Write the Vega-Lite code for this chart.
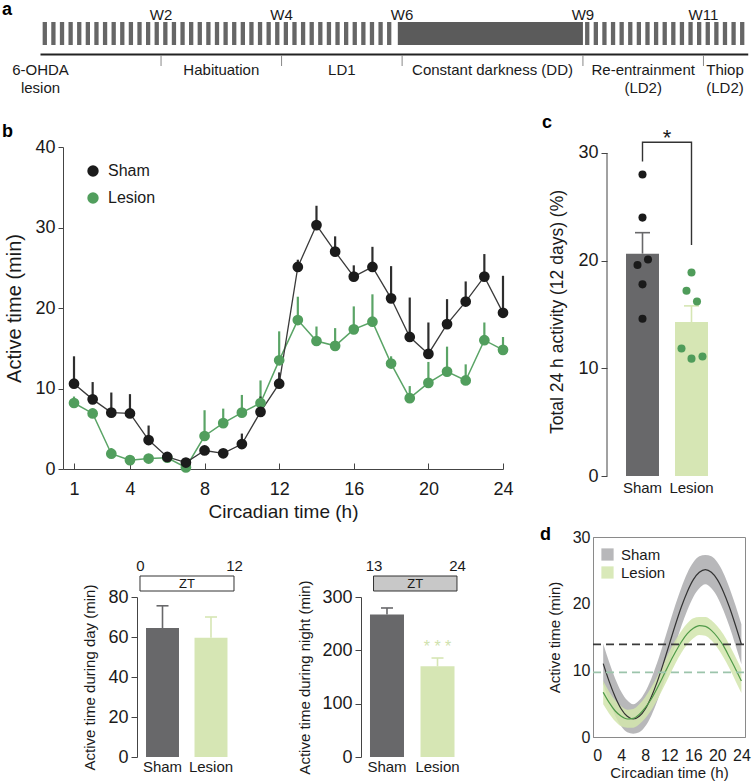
{
  "$schema": "https://vega.github.io/schema/vega-lite/v6.json",
  "padding": 0,
  "background": "white",
  "config": {
    "font": "Liberation Sans",
    "view": {"stroke": null},
    "axis": {"grid": false, "domainColor": "#444", "tickColor": "#444", "labelColor": "#1a1a1a", "titleColor": "#1a1a1a", "titleFontWeight": "normal", "labelFont": "Liberation Sans", "titleFont": "Liberation Sans"},
    "legend": {"labelColor": "#1a1a1a", "labelFont": "Liberation Sans"},
    "text": {"font": "Liberation Sans", "color": "#1a1a1a"}
  },
  "datasets": {
    "stripes": [{"day":0},{"day":1},{"day":2},{"day":3},{"day":4},{"day":5},{"day":6},{"day":7},{"day":8},{"day":9},{"day":10},{"day":11},{"day":12},{"day":13},{"day":14},{"day":15},{"day":16},{"day":17},{"day":18},{"day":19},{"day":20},{"day":21},{"day":22},{"day":23},{"day":24},{"day":25},{"day":26},{"day":27},{"day":28},{"day":29},{"day":30},{"day":31},{"day":32},{"day":33},{"day":34},{"day":35},{"day":36},{"day":37},{"day":38},{"day":39},{"day":40},{"day":63},{"day":64},{"day":65},{"day":66},{"day":67},{"day":68},{"day":69},{"day":70},{"day":71},{"day":72},{"day":73},{"day":74},{"day":75},{"day":76},{"day":77},{"day":78},{"day":79},{"day":80},{"day":81}],
    "weeks": [{"day":14,"w":"W2"},{"day":28,"w":"W4"},{"day":42,"w":"W6"},{"day":63,"w":"W9"},{"day":77,"w":"W11"}],
    "phases": [{"day":0,"label":"6-OHDA\nlesion"},{"day":21,"label":"Habituation"},{"day":35,"label":"LD1"},{"day":52.5,"label":"Constant darkness (DD)"},{"day":70,"label":"Re-entrainment\n(LD2)"},{"day":79.5,"label":"Thiop\n(LD2)"}],
    "b_series": [
      {"group":"Lesion","t":1,"mean":8.2,"upper":9.0},{"group":"Lesion","t":2,"mean":6.9,"upper":7.5},{"group":"Lesion","t":3,"mean":1.9,"upper":2.6},{"group":"Lesion","t":4,"mean":1.1,"upper":1.6},{"group":"Lesion","t":5,"mean":1.3,"upper":1.8},{"group":"Lesion","t":6,"mean":1.4,"upper":1.9},{"group":"Lesion","t":7,"mean":0.2,"upper":0.6},{"group":"Lesion","t":8,"mean":4.1,"upper":7.3},{"group":"Lesion","t":9,"mean":5.7,"upper":7.5},{"group":"Lesion","t":10,"mean":7.0,"upper":9.2},{"group":"Lesion","t":11,"mean":8.2,"upper":11.0},{"group":"Lesion","t":12,"mean":13.5,"upper":17.1},
      {"group":"Lesion","t":13,"mean":18.5,"upper":21.4},{"group":"Lesion","t":14,"mean":15.9,"upper":17.7},{"group":"Lesion","t":15,"mean":15.3,"upper":17.5},{"group":"Lesion","t":16,"mean":17.35,"upper":20.2},{"group":"Lesion","t":17,"mean":18.3,"upper":21.7},{"group":"Lesion","t":18,"mean":13.1,"upper":14.0},{"group":"Lesion","t":19,"mean":8.8,"upper":10.3},{"group":"Lesion","t":20,"mean":10.7,"upper":13.3},{"group":"Lesion","t":21,"mean":12.1,"upper":15.2},{"group":"Lesion","t":22,"mean":11.0,"upper":13.0},{"group":"Lesion","t":23,"mean":16.0,"upper":18.2},{"group":"Lesion","t":24,"mean":14.8,"upper":16.4},
      {"group":"Sham","t":1,"mean":10.6,"upper":14.0},{"group":"Sham","t":2,"mean":8.65,"upper":10.8},{"group":"Sham","t":3,"mean":7.0,"upper":9.5},{"group":"Sham","t":4,"mean":6.9,"upper":9.3},{"group":"Sham","t":5,"mean":3.6,"upper":5.4},{"group":"Sham","t":6,"mean":1.5,"upper":2.0},{"group":"Sham","t":7,"mean":0.8,"upper":1.2},{"group":"Sham","t":8,"mean":2.3,"upper":2.8},{"group":"Sham","t":9,"mean":1.95,"upper":2.4},{"group":"Sham","t":10,"mean":3.1,"upper":4.4},{"group":"Sham","t":11,"mean":7.1,"upper":9.0},{"group":"Sham","t":12,"mean":10.6,"upper":12.0},
      {"group":"Sham","t":13,"mean":25.1,"upper":26.0},{"group":"Sham","t":14,"mean":30.3,"upper":32.7},{"group":"Sham","t":15,"mean":27.0,"upper":28.9},{"group":"Sham","t":16,"mean":23.9,"upper":25.3},{"group":"Sham","t":17,"mean":25.1,"upper":27.6},{"group":"Sham","t":18,"mean":21.2,"upper":25.2},{"group":"Sham","t":19,"mean":16.4,"upper":21.3},{"group":"Sham","t":20,"mean":14.3,"upper":18.2},{"group":"Sham","t":21,"mean":18.0,"upper":21.1},{"group":"Sham","t":22,"mean":20.8,"upper":23.3},{"group":"Sham","t":23,"mean":23.9,"upper":26.7},{"group":"Sham","t":24,"mean":19.4,"upper":24.0}
    ],
    "c_bars": [{"group":"Sham","value":20.65,"upper":22.6},{"group":"Lesion","value":14.3,"upper":15.8}],
    "c_dots": [{"group":"Sham","animal":"S1","value":28.0},{"group":"Sham","animal":"S2","value":24.0},{"group":"Sham","animal":"S3","value":20.1},{"group":"Sham","animal":"S4","value":19.6},{"group":"Sham","animal":"S5","value":17.8},{"group":"Sham","animal":"S6","value":14.6},{"group":"Lesion","animal":"L1","value":18.9},{"group":"Lesion","animal":"L2","value":17.2},{"group":"Lesion","animal":"L3","value":16.2},{"group":"Lesion","animal":"L4","value":11.85},{"group":"Lesion","animal":"L5","value":10.9},{"group":"Lesion","animal":"L6","value":11.1}],
    "d_curve": [
      {"group":"Sham","t":1,"fit":11.0,"lo":8.0,"hi":14.0},{"group":"Sham","t":2,"fit":8.3,"lo":5.4,"hi":11.2},{"group":"Sham","t":3,"fit":6.0,"lo":3.2,"hi":8.75},{"group":"Sham","t":4,"fit":4.2,"lo":1.6,"hi":6.8},{"group":"Sham","t":5,"fit":3.1,"lo":0.7,"hi":5.5},{"group":"Sham","t":6,"fit":2.7,"lo":0.5,"hi":4.9},{"group":"Sham","t":7,"fit":3.1,"lo":0.7,"hi":5.5},{"group":"Sham","t":8,"fit":4.2,"lo":1.6,"hi":6.8},{"group":"Sham","t":9,"fit":6.0,"lo":3.2,"hi":8.75},{"group":"Sham","t":10,"fit":8.3,"lo":5.4,"hi":11.2},{"group":"Sham","t":11,"fit":11.0,"lo":8.0,"hi":14.0},{"group":"Sham","t":12,"fit":13.9,"lo":10.9,"hi":16.9},
      {"group":"Sham","t":13,"fit":16.8,"lo":13.8,"hi":19.8},{"group":"Sham","t":14,"fit":19.5,"lo":16.6,"hi":22.4},{"group":"Sham","t":15,"fit":21.8,"lo":19.0,"hi":24.6},{"group":"Sham","t":16,"fit":23.6,"lo":21.0,"hi":26.2},{"group":"Sham","t":17,"fit":24.7,"lo":22.3,"hi":27.1},{"group":"Sham","t":18,"fit":25.1,"lo":22.9,"hi":27.3},{"group":"Sham","t":19,"fit":24.7,"lo":22.3,"hi":27.1},{"group":"Sham","t":20,"fit":23.6,"lo":21.0,"hi":26.2},{"group":"Sham","t":21,"fit":21.8,"lo":19.0,"hi":24.6},{"group":"Sham","t":22,"fit":19.5,"lo":16.6,"hi":22.4},{"group":"Sham","t":23,"fit":16.8,"lo":13.8,"hi":19.8},{"group":"Sham","t":24,"fit":13.9,"lo":10.9,"hi":16.9},
      {"group":"Lesion","t":1,"fit":6.7,"lo":4.9,"hi":8.4},{"group":"Lesion","t":2,"fit":5.15,"lo":3.5,"hi":6.8},{"group":"Lesion","t":3,"fit":3.9,"lo":2.35,"hi":5.5},{"group":"Lesion","t":4,"fit":3.1,"lo":1.6,"hi":4.6},{"group":"Lesion","t":5,"fit":2.7,"lo":1.4,"hi":4.1},{"group":"Lesion","t":6,"fit":2.8,"lo":1.4,"hi":4.2},{"group":"Lesion","t":7,"fit":3.4,"lo":1.9,"hi":4.9},{"group":"Lesion","t":8,"fit":4.4,"lo":2.8,"hi":6.0},{"group":"Lesion","t":9,"fit":5.7,"lo":4.0,"hi":7.45},{"group":"Lesion","t":10,"fit":7.35,"lo":5.6,"hi":9.1},{"group":"Lesion","t":11,"fit":9.15,"lo":7.35,"hi":10.95},{"group":"Lesion","t":12,"fit":11.0,"lo":9.2,"hi":12.8},
      {"group":"Lesion","t":13,"fit":12.7,"lo":11.0,"hi":14.5},{"group":"Lesion","t":14,"fit":14.25,"lo":12.6,"hi":15.9},{"group":"Lesion","t":15,"fit":15.5,"lo":13.9,"hi":17.05},{"group":"Lesion","t":16,"fit":16.3,"lo":14.8,"hi":17.8},{"group":"Lesion","t":17,"fit":16.7,"lo":15.3,"hi":18.0},{"group":"Lesion","t":18,"fit":16.6,"lo":15.2,"hi":18.0},{"group":"Lesion","t":19,"fit":16.0,"lo":14.5,"hi":17.5},{"group":"Lesion","t":20,"fit":15.0,"lo":13.4,"hi":16.6},{"group":"Lesion","t":21,"fit":13.7,"lo":11.95,"hi":15.4},{"group":"Lesion","t":22,"fit":12.0,"lo":10.3,"hi":13.8},{"group":"Lesion","t":23,"fit":10.25,"lo":8.45,"hi":12.05},{"group":"Lesion","t":24,"fit":8.4,"lo":6.6,"hi":10.2}
    ]
  },
  "vconcat": [
    {
      "width": 754,
      "height": 95,
      "encoding": {"x": {"field": "day", "type": "quantitative", "scale": {"domain": [-4.704, 82.87], "nice": false, "zero": false}, "axis": null}},
      "layer": [
        {"data": {"name": "stripes"}, "mark": {"type": "tick", "thickness": 4.3, "size": 23, "xOffset": 4.3, "color": "#666666", "opacity": 1}, "encoding": {"y": {"value": 33.5}}},
        {"data": {"values": [{"day": 41.5, "day_end": 63}]}, "mark": {"type": "rect", "color": "#5b5b5b"}, "encoding": {"x2": {"field": "day_end"}, "y": {"value": 22}, "y2": {"value": 45}}},
        {"data": {"values": [{"day": 0, "day_end": 82.2}]}, "mark": {"type": "rule", "color": "#222222", "strokeWidth": 1.8}, "encoding": {"x2": {"field": "day_end"}, "y": {"value": 54.5}}},
        {"data": {"name": "weeks"}, "mark": {"type": "rule", "color": "#888888", "strokeWidth": 1}, "encoding": {"y": {"value": 55}, "y2": {"value": 66}}},
        {"data": {"name": "weeks"}, "mark": {"type": "text", "fontSize": 15, "baseline": "alphabetic", "align": "center"}, "encoding": {"text": {"field": "w"}, "y": {"value": 20}}},
        {"data": {"name": "phases"}, "mark": {"type": "text", "fontSize": 15, "baseline": "top", "align": "center", "lineBreak": "\n", "lineHeight": 18}, "encoding": {"text": {"field": "label"}, "y": {"value": 63}}},
        {"data": {"values": [{"L": "a"}]}, "mark": {"type": "text", "fontSize": 18, "fontWeight": "bold", "align": "left", "baseline": "top", "color": "#000000"}, "encoding": {"text": {"field": "L"}, "x": {"value": 2}, "y": {"value": 1}}}
      ]
    },
    {
      "vconcat": [
        {
          "hconcat": [
            {"width": 63, "height": 1, "data": {"values": []}, "mark": "point", "encoding": {}},
            {
              "width": 440,
              "height": 322,
              "encoding": {
                "x": {"field": "t", "type": "quantitative", "scale": {"domain": [0.41, 24], "nice": false, "zero": false}, "axis": {"values": [1, 4, 8, 12, 16, 20, 24], "title": "Circadian time (h)", "titleFontSize": 19, "labelFontSize": 18, "tickSize": -6, "labelPadding": 17, "titlePadding": 4, "labelFlush": false, "labelOverlap": false}},
                "y": {"field": "mean", "type": "quantitative", "scale": {"domain": [0, 40], "nice": false}, "axis": {"values": [0, 10, 20, 30, 40], "title": "Active time (min)", "titleFontSize": 20, "labelFontSize": 18, "tickSize": 5, "labelPadding": 3, "titlePadding": 10, "labelFlush": false}}
              },
              "layer": [
                {"data": {"values": [{"t": 11.7, "t_end": 24}]}, "mark": {"type": "rect", "color": {"gradient": "linear", "x1": 0, "x2": 1, "y1": 0, "y2": 0, "stops": [{"offset": 0, "color": "#ffffff"}, {"offset": 0.045, "color": "#e6e6e8"}, {"offset": 1, "color": "#e6e6e8"}]}}, "encoding": {"x2": {"field": "t_end"}, "y": {"datum": 0}, "y2": {"datum": 40}}},
                {"data": {"name": "b_series"}, "transform": [{"filter": "datum.group == 'Lesion'"}], "mark": {"type": "rule", "strokeWidth": 2.2, "color": "#5aa466"}, "encoding": {"y2": {"field": "upper"}}},
                {"data": {"name": "b_series"}, "transform": [{"filter": "datum.group == 'Sham'"}], "mark": {"type": "rule", "strokeWidth": 2.2, "color": "#2e2e2e"}, "encoding": {"y2": {"field": "upper"}}},
                {"data": {"name": "b_series"}, "transform": [{"filter": "datum.group == 'Lesion'"}], "mark": {"type": "line", "strokeWidth": 1.5, "color": "#5aa466"}},
                {"data": {"name": "b_series"}, "transform": [{"filter": "datum.group == 'Sham'"}], "mark": {"type": "line", "strokeWidth": 1.3, "color": "#3a3a3a"}},
                {"data": {"name": "b_series"}, "mark": {"type": "point", "filled": true, "size": 115, "opacity": 1}, "encoding": {"color": {"field": "group", "type": "nominal", "scale": {"domain": ["Sham", "Lesion"], "range": ["#1b1b1b", "#519e5d"]}, "legend": {"orient": "none", "legendX": 22, "legendY": 16, "title": null, "symbolType": "circle", "symbolSize": 130, "labelFontSize": 16, "rowPadding": 11, "labelOffset": 7, "padding": 0, "symbolStrokeWidth": 0}}}},
                {"data": {"values": [{"L": "b"}]}, "mark": {"type": "text", "fontSize": 18, "fontWeight": "bold", "align": "left", "baseline": "alphabetic", "color": "#000000"}, "encoding": {"text": {"field": "L"}, "x": {"value": -61}, "y": {"value": -10}}}
              ]
            },
            {"width": 104, "height": 1, "data": {"values": []}, "mark": "point", "encoding": {}},
            {
              "width": 120,
              "height": 329,
              "encoding": {
                "x": {"field": "group", "type": "nominal", "sort": ["Sham", "Lesion"], "scale": {"domain": ["Sham", "Lesion"], "paddingInner": 0.327, "paddingOuter": 0.388}, "axis": {"title": null, "labelAngle": 0, "labelFontSize": 15, "domain": false, "ticks": false, "labelPadding": 4}},
                "y": {"field": "value", "type": "quantitative", "scale": {"domain": [0, 30.557], "nice": false}, "axis": {"values": [0, 10, 20, 30], "domain": false, "title": "Total 24 h activity (12 days) (%)", "titleFontSize": 17.5, "labelFontSize": 18, "tickSize": 6, "labelPadding": 3, "titlePadding": 11, "labelFlush": false}}
              },
              "layer": [
                {"data": {"values": [{"a": 0, "b": 30}]}, "mark": {"type": "rule", "color": "#444444", "strokeWidth": 1}, "encoding": {"x": {"value": 0}, "y": {"field": "a", "type": "quantitative"}, "y2": {"field": "b"}}},
                {"data": {"name": "c_bars"}, "mark": {"type": "bar"}, "encoding": {"color": {"field": "group", "type": "nominal", "scale": {"domain": ["Sham", "Lesion"], "range": ["#68686a", "#d6e6b4"]}, "legend": null}}},
                {"data": {"name": "c_bars"}, "mark": {"type": "rule", "strokeWidth": 1.6}, "encoding": {"y2": {"field": "upper"}, "color": {"field": "group", "type": "nominal", "scale": {"domain": ["Sham", "Lesion"], "range": ["#68686a", "#d6e6b4"]}, "legend": null}}},
                {"data": {"name": "c_bars"}, "mark": {"type": "tick", "size": 15, "thickness": 1.6, "opacity": 1}, "encoding": {"y": {"field": "upper", "type": "quantitative"}, "color": {"field": "group", "type": "nominal", "scale": {"domain": ["Sham", "Lesion"], "range": ["#68686a", "#d6e6b4"]}, "legend": null}}},
                {"data": {"name": "c_dots"}, "transform": [{"filter": {"field": "animal", "oneOf": ["S1", "S2", "S5", "S6", "L1", "L5"]}}], "mark": {"type": "point", "filled": true, "size": 65, "opacity": 1}, "encoding": {"fill": {"field": "group", "type": "nominal", "scale": {"domain": ["Sham", "Lesion"], "range": ["#1a1a1a", "#4f9c5a"]}, "legend": null}}},
                {"data": {"name": "c_dots"}, "transform": [{"filter": {"field": "animal", "oneOf": ["S3", "L3"]}}], "mark": {"type": "point", "filled": true, "size": 65, "opacity": 1, "xOffset": 5.5}, "encoding": {"fill": {"field": "group", "type": "nominal", "scale": {"domain": ["Sham", "Lesion"], "range": ["#1a1a1a", "#4f9c5a"]}, "legend": null}}},
                {"data": {"name": "c_dots"}, "transform": [{"filter": {"field": "animal", "oneOf": ["S4", "L2"]}}], "mark": {"type": "point", "filled": true, "size": 65, "opacity": 1, "xOffset": -5}, "encoding": {"fill": {"field": "group", "type": "nominal", "scale": {"domain": ["Sham", "Lesion"], "range": ["#1a1a1a", "#4f9c5a"]}, "legend": null}}},
                {"data": {"name": "c_dots"}, "transform": [{"filter": {"field": "animal", "oneOf": ["L4"]}}], "mark": {"type": "point", "filled": true, "size": 65, "opacity": 1, "xOffset": -10}, "encoding": {"fill": {"field": "group", "type": "nominal", "scale": {"domain": ["Sham", "Lesion"], "range": ["#1a1a1a", "#4f9c5a"]}, "legend": null}}},
                {"data": {"name": "c_dots"}, "transform": [{"filter": {"field": "animal", "oneOf": ["L6"]}}], "mark": {"type": "point", "filled": true, "size": 65, "opacity": 1, "xOffset": 11}, "encoding": {"fill": {"field": "group", "type": "nominal", "scale": {"domain": ["Sham", "Lesion"], "range": ["#1a1a1a", "#4f9c5a"]}, "legend": null}}},
                {"data": {"values": [{"group": "Sham", "value": 29.2, "k": 1}, {"group": "Sham", "value": 31.0, "k": 2}, {"group": "Lesion", "value": 31.0, "k": 3}, {"group": "Lesion", "value": 21.45, "k": 4}]}, "mark": {"type": "line", "color": "#333333", "strokeWidth": 1.4}, "encoding": {"order": {"field": "k", "type": "quantitative"}}},
                {"data": {"values": [{"group": "Sham", "value": 30.75, "s": "*"}]}, "mark": {"type": "text", "fontSize": 22, "baseline": "alphabetic", "align": "center", "dx": 24.5}, "encoding": {"text": {"field": "s"}}},
                {"data": {"values": [{"L": "c"}]}, "mark": {"type": "text", "fontSize": 18, "fontWeight": "bold", "align": "left", "baseline": "alphabetic", "color": "#000000"}, "encoding": {"text": {"field": "L"}, "x": {"value": -65}, "y": {"value": -19}}}
              ]
            }
          ],
          "spacing": 0,
          "bounds": "flush",
          "resolve": {"scale": {"color": "independent", "fill": "independent", "stroke": "independent"}}
        },
        {
          "hconcat": [
            {
              "vconcat": [
                {"width": 1, "height": 1, "data": {"values": []}, "mark": "point", "encoding": {}},
                {
                  "hconcat": [
                    {"width": 137, "height": 1, "data": {"values": []}, "mark": "point", "encoding": {}},
                    {
                      "width": 99.5,
                      "height": 160,
                      "layer": [
                        {
                          "data": {"values": [{"group": "Sham", "value": 64.5, "upper": 75.6}, {"group": "Lesion", "value": 59.6, "upper": 70.0}]},
                          "encoding": {
                            "x": {"field": "group", "type": "nominal", "sort": ["Sham", "Lesion"], "scale": {"domain": ["Sham", "Lesion"], "paddingInner": 0.32, "paddingOuter": 0.186}, "axis": {"title": null, "labelAngle": 0, "labelFontSize": 15, "domain": false, "ticks": false, "labelPadding": 2}},
                            "y": {"field": "value", "type": "quantitative", "scale": {"domain": [0, 80], "nice": false}, "axis": {"values": [0, 20, 40, 60, 80], "title": "Active time during day (min)", "titleFontSize": 15, "labelFontSize": 18, "tickSize": 6, "labelPadding": 3, "titlePadding": 10, "labelFlush": false}},
                            "color": {"field": "group", "type": "nominal", "scale": {"domain": ["Sham", "Lesion"], "range": ["#68686a", "#d6e6b4"]}, "legend": null}
                          },
                          "layer": [
                            {"mark": {"type": "bar"}},
                            {"mark": {"type": "rule", "strokeWidth": 1.6}, "encoding": {"y2": {"field": "upper"}}},
                            {"mark": {"type": "tick", "size": 12, "thickness": 1.6, "opacity": 1}, "encoding": {"y": {"field": "upper", "type": "quantitative"}}}
                          ]
                        },
                        {
                          "data": {"values": [{"zt": 0, "zt_end": 12, "label": "ZT"}]},
                          "transform": [{"calculate": "(datum.zt + datum.zt_end) / 2", "as": "mid"}],
                          "layer": [
                            {"mark": {"type": "rect", "fill": "#ffffff", "stroke": "#333333", "strokeWidth": 1}, "encoding": {"x": {"field": "zt", "type": "quantitative", "scale": {"domain": [-0.383, 12.32], "nice": false, "zero": false}, "axis": {"orient": "top", "values": [0, 12], "domain": false, "ticks": false, "labelFontSize": 15, "labelPadding": 2, "offset": 22, "title": null, "labelFlush": false}}, "x2": {"field": "zt_end"}, "y": {"value": -21}, "y2": {"value": -6}}},
                            {"mark": {"type": "text", "fontSize": 13, "baseline": "middle", "align": "center"}, "encoding": {"x": {"field": "mid", "type": "quantitative", "scale": {"domain": [-0.383, 12.32], "nice": false, "zero": false}}, "y": {"value": -13.5}, "text": {"field": "label"}}}
                          ]
                        }
                      ],
                      "resolve": {"scale": {"x": "independent"}}
                    },
                    {"width": 123.5, "height": 1, "data": {"values": []}, "mark": "point", "encoding": {}},
                    {
                      "width": 102.5,
                      "height": 160,
                      "layer": [
                        {
                          "data": {"values": [{"group": "Sham", "value": 267, "upper": 279.4}, {"group": "Lesion", "value": 170, "upper": 185.6}]},
                          "encoding": {
                            "x": {"field": "group", "type": "nominal", "sort": ["Sham", "Lesion"], "scale": {"domain": ["Sham", "Lesion"], "paddingInner": 0.327, "paddingOuter": 0.178}, "axis": {"title": null, "labelAngle": 0, "labelFontSize": 15, "domain": false, "ticks": false, "labelPadding": 2}},
                            "y": {"field": "value", "type": "quantitative", "scale": {"domain": [0, 300], "nice": false}, "axis": {"values": [0, 100, 200, 300], "title": "Active time during night (min)", "titleFontSize": 15, "labelFontSize": 18, "tickSize": 6, "labelPadding": 3, "titlePadding": 9, "labelFlush": false}},
                            "color": {"field": "group", "type": "nominal", "scale": {"domain": ["Sham", "Lesion"], "range": ["#68686a", "#d6e6b4"]}, "legend": null}
                          },
                          "layer": [
                            {"mark": {"type": "bar"}},
                            {"mark": {"type": "rule", "strokeWidth": 1.6}, "encoding": {"y2": {"field": "upper"}}},
                            {"mark": {"type": "tick", "size": 12, "thickness": 1.6, "opacity": 1}, "encoding": {"y": {"field": "upper", "type": "quantitative"}}},
                            {"data": {"values": [{"group": "Lesion", "value": 196, "s": "* * *"}]}, "mark": {"type": "text", "fontSize": 16, "baseline": "alphabetic", "align": "center"}, "encoding": {"text": {"field": "s"}, "color": {"value": "#cfe2ad"}}}
                          ]
                        },
                        {
                          "data": {"values": [{"zt": 13, "zt_end": 24, "label": "ZT"}]},
                          "transform": [{"calculate": "(datum.zt + datum.zt_end) / 2", "as": "mid"}],
                          "layer": [
                            {"mark": {"type": "rect", "fill": "#c8c8c8", "stroke": "#333333", "strokeWidth": 1}, "encoding": {"x": {"field": "zt", "type": "quantitative", "scale": {"domain": [11.35, 24.86], "nice": false, "zero": false}, "axis": {"orient": "top", "values": [13, 24], "domain": false, "ticks": false, "labelFontSize": 15, "labelPadding": 2, "offset": 22, "title": null, "labelFlush": false}}, "x2": {"field": "zt_end"}, "y": {"value": -21}, "y2": {"value": -6}}},
                            {"mark": {"type": "text", "fontSize": 13, "baseline": "middle", "align": "center"}, "encoding": {"x": {"field": "mid", "type": "quantitative", "scale": {"domain": [11.35, 24.86], "nice": false, "zero": false}}, "y": {"value": -13.5}, "text": {"field": "label"}}}
                          ]
                        }
                      ],
                      "resolve": {"scale": {"x": "independent"}}
                    }
                  ],
                  "spacing": 0,
                  "bounds": "flush",
                  "resolve": {"scale": {"color": "independent", "fill": "independent", "stroke": "independent"}}
                }
              ],
              "spacing": 59,
              "bounds": "flush",
              "resolve": {"scale": {"color": "independent", "fill": "independent", "stroke": "independent"}}
            },
            {
              "width": 152,
              "height": 200,
              "view": {"stroke": "#8a8a8a", "strokeWidth": 1},
              "encoding": {
                "x": {"field": "t", "type": "quantitative", "scale": {"domain": [-0.7, 24.6], "nice": false, "zero": false}, "axis": {"values": [0, 4, 8, 12, 16, 20, 24], "title": "Circadian time (h)", "titleFontSize": 15, "labelFontSize": 16, "ticks": false, "labelPadding": 10, "titlePadding": 2, "labelFlush": false, "labelOverlap": false, "domainColor": "#8a8a8a"}},
                "y": {"field": "fit", "type": "quantitative", "scale": {"domain": [0, 30], "nice": false}, "axis": {"values": [0, 10, 20, 30], "title": "Active time (min)", "titleFontSize": 15, "labelFontSize": 16, "ticks": false, "labelPadding": 3, "titlePadding": 10, "labelFlush": false, "domainColor": "#8a8a8a"}}
              },
              "layer": [
                {"data": {"name": "d_curve"}, "transform": [{"filter": "datum.group == 'Sham'"}], "mark": {"type": "area", "opacity": 0.85, "interpolate": "monotone"}, "encoding": {"y": {"field": "lo", "type": "quantitative"}, "y2": {"field": "hi"}, "fill": {"field": "group", "type": "nominal", "scale": {"domain": ["Sham", "Lesion"], "range": ["#acacae", "#d2e5ad"]}, "legend": {"orient": "none", "legendX": 7, "legendY": 10, "title": null, "symbolType": "square", "symbolSize": 150, "labelFontSize": 15, "rowPadding": 2, "labelOffset": 6, "padding": 0, "symbolStrokeWidth": 0}}}},
                {"data": {"name": "d_curve"}, "transform": [{"filter": "datum.group == 'Lesion'"}], "mark": {"type": "area", "opacity": 0.85, "interpolate": "monotone"}, "encoding": {"y": {"field": "lo", "type": "quantitative"}, "y2": {"field": "hi"}, "fill": {"field": "group", "type": "nominal", "scale": {"domain": ["Sham", "Lesion"], "range": ["#acacae", "#d2e5ad"]}}}},
                {"data": {"name": "d_curve"}, "transform": [{"filter": "datum.group == 'Sham'"}], "mark": {"type": "line", "color": "#333333", "strokeWidth": 1.2, "interpolate": "monotone"}},
                {"data": {"name": "d_curve"}, "transform": [{"filter": "datum.group == 'Lesion'"}], "mark": {"type": "line", "color": "#4f9a48", "strokeWidth": 1.2, "interpolate": "monotone"}},
                {"data": {"values": [{"fit": 13.9, "t": -0.7, "t_end": 24.6}]}, "mark": {"type": "rule", "strokeWidth": 1.6, "strokeDash": [8, 5], "color": "#3a3a3a"}, "encoding": {"x2": {"field": "t_end"}}},
                {"data": {"values": [{"fit": 9.7, "t": -0.7, "t_end": 24.6}]}, "mark": {"type": "rule", "strokeWidth": 1.6, "strokeDash": [8, 5], "color": "#9cc4ab"}, "encoding": {"x2": {"field": "t_end"}}},
                {"data": {"values": [{"L": "d"}]}, "mark": {"type": "text", "fontSize": 18, "fontWeight": "bold", "align": "left", "baseline": "alphabetic", "color": "#000000"}, "encoding": {"text": {"field": "L"}, "x": {"value": -53}, "y": {"value": 3}}}
              ]
            }
          ],
          "spacing": 593,
          "bounds": "flush",
          "resolve": {"scale": {"color": "independent", "fill": "independent", "stroke": "independent"}}
        }
      ],
      "spacing": 390,
      "bounds": "flush",
      "resolve": {"scale": {"color": "independent", "fill": "independent", "stroke": "independent"}}
    }
  ],
  "spacing": 52,
  "bounds": "flush",
  "resolve": {"scale": {"color": "independent", "fill": "independent", "stroke": "independent"}}
}
